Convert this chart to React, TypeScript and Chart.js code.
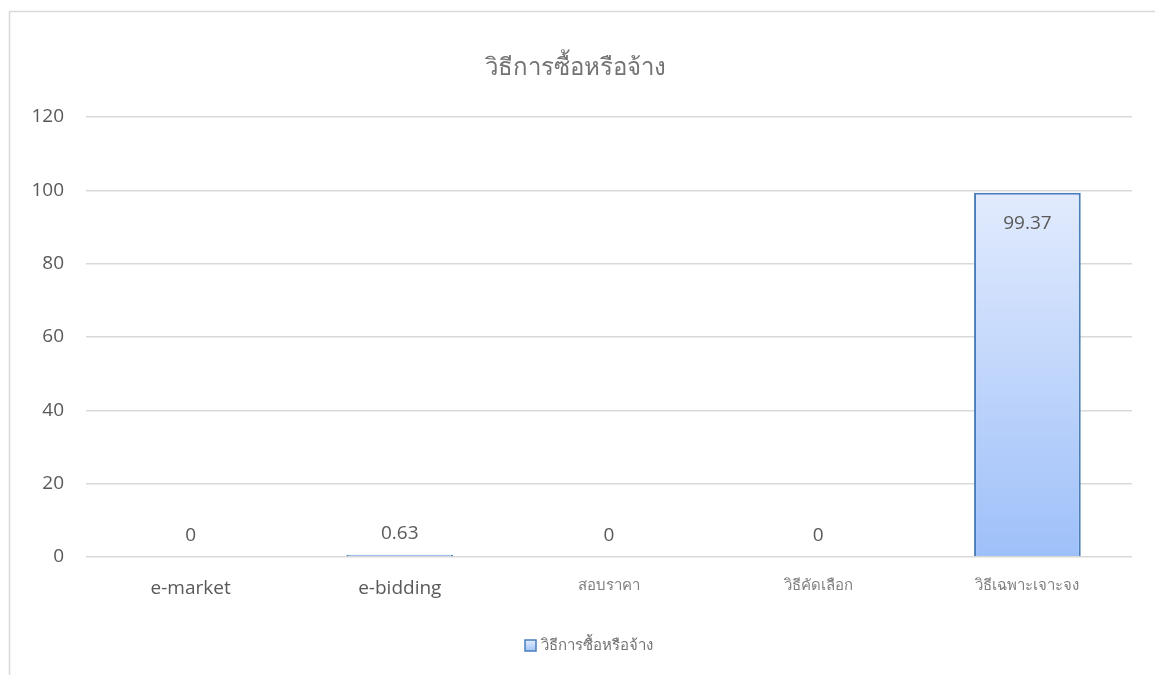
import React, { useEffect, useRef } from "react";
import { Chart, registerables } from "chart.js";

Chart.register(...registerables);

const chartTitle = "วิธีการซื้อหรือจ้าง";
const seriesName = "วิธีการซื้อหรือจ้าง";
const categories = ["e-market", "e-bidding", "สอบราคา", "วิธีคัดเลือก", "วิธีเฉพาะเจาะจง"];
const values = [0, 0.63, 0, 0, 99.37];
const yMin = 0;
const yMax = 120;
const yStep = 20;

const FONT = "'Open Sans', 'Noto Sans', 'DejaVu Sans', sans-serif";
const TEXT = "#595959";

const decorPlugin = {
  id: "decor",
  beforeDraw(chart: any) {
    const ctx = chart.ctx;
    ctx.save();
    ctx.fillStyle = "#ffffff";
    ctx.fillRect(0, 0, chart.width, chart.height);
    ctx.strokeStyle = "#d9d9d9";
    ctx.lineWidth = 1.5;
    ctx.beginPath();
    ctx.moveTo(9.5, chart.height + 5);
    ctx.lineTo(9.5, 11.5);
    ctx.lineTo(chart.width + 5, 11.5);
    ctx.stroke();
    ctx.restore();
  },
  afterDraw(chart: any) {
    const ctx = chart.ctx;
    ctx.save();
    // title
    ctx.fillStyle = "#737373";
    ctx.font = `300 24px ${FONT}`;
    ctx.textAlign = "center";
    ctx.textBaseline = "middle";
    ctx.fillText(chartTitle, 575, 68);
    // data labels
    const meta = chart.getDatasetMeta(0);
    ctx.fillStyle = TEXT;
    ctx.font = `19px ${FONT}`;
    meta.data.forEach((bar: any, i: number) => {
      const v = values[i];
      const h = Math.abs(bar.base - bar.y);
      const y = h > 40 ? bar.y + 31 : bar.y - 21;
      ctx.fillText(String(v), bar.x, y);
    });
    // legend
    const lx = 525, ly = 640;
    const g = ctx.createLinearGradient(0, ly, 0, ly + 11);
    g.addColorStop(0, "#e3ecfd");
    g.addColorStop(1, "#a4c4f9");
    ctx.fillStyle = g;
    ctx.fillRect(lx, ly, 11, 11);
    ctx.strokeStyle = "#4a7ebb";
    ctx.lineWidth = 1.5;
    ctx.strokeRect(lx, ly, 11, 11);
    ctx.fillStyle = "#737373";
    ctx.font = `15px ${FONT}`;
    ctx.textAlign = "left";
    ctx.fillText(seriesName, 541, 646);
    ctx.restore();
  },
};

export default function App() {
  const ref = useRef<HTMLCanvasElement>(null);
  useEffect(() => {
    if (!ref.current) return;
    const chart = new Chart(ref.current, {
      type: "bar",
      data: {
        labels: categories,
        datasets: [
          {
            label: seriesName,
            data: values,
            backgroundColor: (c: any) => {
              const area = c.chart.chartArea;
              if (!area) return "#c5dafc";
              const g = c.chart.ctx.createLinearGradient(0, area.top + 75, 0, area.bottom);
              g.addColorStop(0, "#e2ebfd");
              g.addColorStop(1, "#9ec0f9");
              return g;
            },
            borderColor: "#4a7ebb",
            borderWidth: 2,
            barPercentage: 0.51,
            categoryPercentage: 1,
          },
        ],
      },
      plugins: [decorPlugin],
      options: {
        responsive: false,
        animation: false,
        layout: { padding: { left: 9, right: 23, top: 117, bottom: 68 } },
        plugins: {
          legend: { display: false },
          title: { display: false },
          tooltip: { enabled: false },
        },
        scales: {
          x: {
            grid: { display: false, drawTicks: false },
            border: { display: false },
            ticks: {
              color: (c: any) => (c.index >= 2 ? "#7f7f7f" : TEXT),
              font: (c: any) => ({ family: FONT, size: c.index >= 2 ? 15 : 19 }),
              padding: (c: any) => (c.index >= 2 ? 24 : 20),
              maxRotation: 0,
            },
            afterFit: (s: any) => {
              s.height = 50;
            },
          },
          y: {
            min: yMin,
            max: yMax,
            grid: { color: "#d9d9d9", lineWidth: 1.5, drawTicks: false },
            border: { display: false },
            ticks: {
              stepSize: yStep,
              color: TEXT,
              font: { family: FONT, size: 19 },
              padding: 22,
            },
            afterFit: (s: any) => {
              s.width = 77;
            },
          },
        },
      },
    });
    return () => chart.destroy();
  }, []);
  return (
    <div style={{ position: "fixed", left: 0, top: 0, width: 1155, height: 675 }}>
      <canvas ref={ref} width={1155} height={675} style={{ width: 1155, height: 675 }} />
    </div>
  );
}
